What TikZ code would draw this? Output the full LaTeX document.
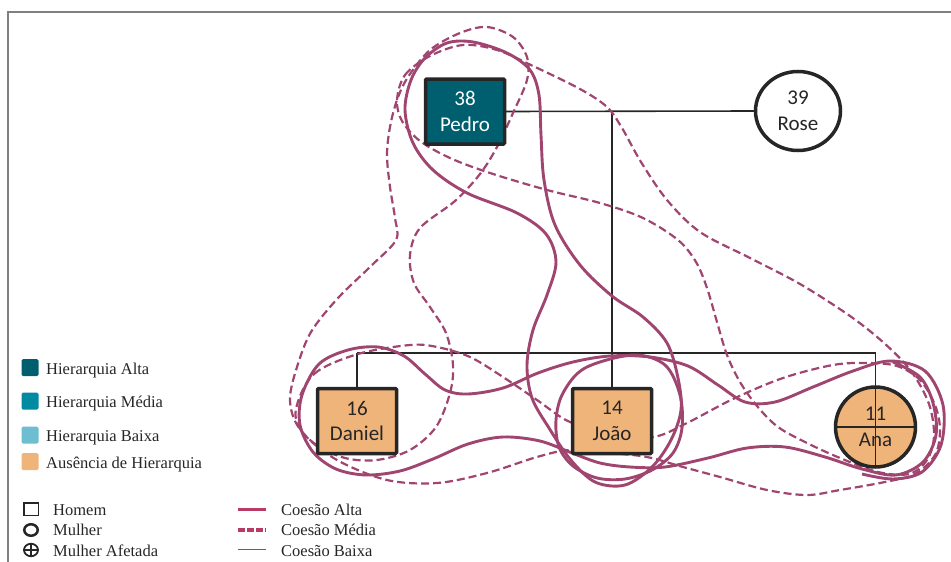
\documentclass[tikz,border=0pt]{standalone}
\usepackage{fontspec}
\setmainfont{Liberation Serif}
\newfontfamily\nodefont{Carlito}
\usetikzlibrary{shapes.geometric}
\pgfdeclarelayer{kinlayer}
\pgfdeclarelayer{bondlayer}
\pgfsetlayers{kinlayer,bondlayer,main}

\definecolor{bond}{RGB}{160,69,112}
\definecolor{legbond}{RGB}{184,58,102}
\definecolor{hialta}{RGB}{0,95,111}
\definecolor{himedia}{RGB}{0,139,163}
\definecolor{hibaixa}{RGB}{108,190,208}
\definecolor{hiausencia}{RGB}{239,180,122}
\definecolor{ink}{RGB}{38,38,38}
\definecolor{framegray}{RGB}{128,128,128}

\tikzset{
  person/.style={draw=ink, line width=3.5pt, align=center, text=ink,
    font=\nodefont\fontsize{21}{25.5}\selectfont, outer sep=0pt, inner sep=0pt},
  male/.style={person, rectangle, rounded corners=1pt, minimum width=79pt, minimum height=65pt},
  female/.style={person, ellipse, minimum width=85pt, minimum height=79pt},
  kin/.style={draw=ink, line width=1.6pt},
  strong/.style={draw=bond, line width=2.9pt, line join=round},
  medium/.style={draw=bond, line width=2.2pt, dash pattern=on 8pt off 4pt},
  legtext/.style={anchor=base west, inner sep=0pt, text=ink,
    font=\fontsize{16.5}{18}\selectfont},
  swatch/.style={rectangle, rounded corners=1.5pt, minimum size=17pt, inner sep=0pt},
}

\begin{document}
\begin{tikzpicture}[x=1pt,y=-1pt]
\useasboundingbox (0,0) rectangle (951,562);

% frame
\draw[framegray, line width=1.3pt] (8,562) -- (8,12) -- (951,12);

% family members
\node[male, fill=hialta, text=white] (pedro) at (465,111.5) {38\\Pedro};
\node[female, fill=white] (rose) at (798,111) {39\\Rose};
\node[male, fill=hiausencia] (daniel) at (357,421) {16\\Daniel};
\node[male, fill=hiausencia] (joao) at (612,421) {14\\João};
\node[person, circle, minimum size=80pt, fill=hiausencia] (ana) at (875.5,427) {11\\Ana};
\draw[kin] (ana.north) -- (ana.south);
\draw[kin] (ana.west) -- (ana.east);

% kinship lines
\begin{pgfonlayer}{kinlayer}
  \coordinate (wed) at (612,111);
  \coordinate (sib) at (612,353);
  \coordinate (sibL) at (daniel.north |- sib);
  \coordinate (sibR) at (ana.north |- sib);
  \draw[kin] (pedro.east) -- (rose.west);
  \draw[kin] (wed) -- (sib);
  \draw[kin] (sibL) -- (sibR);
  \draw[kin] (sibL) -- (daniel.north);
  \draw[kin] (sib) -- (joao.north);
  \draw[kin] (sibR) -- (ana.north);
\end{pgfonlayer}

% cohesion bonds
\begin{pgfonlayer}{bondlayer}
  % Pedro - Joao (strong)
  \draw[strong] plot[smooth cycle, tension=0.55] coordinates {
    (447,43) (473,42) (507,53) (530,70) (539,95) (541,135) (544,180) (555,225)
    (580,265) (612,296) (643,317) (667,343) (678,378) (681,410) (671,440)
    (652,467) (625,485) (595,482) (570,459) (549,428) (532,398) (527,365)
    (533,330) (547,295) (556,262) (546,234) (517,213) (467,193) (433,170)
    (413,143) (405,110) (411,80) (425,58)};
  % Joao (strong)
  \draw[strong] plot[smooth cycle, tension=0.55] coordinates {
    (633,355) (665,365) (680,395) (682,428) (673,453) (652,470) (625,479)
    (597,478) (573,466) (559,447) (556,420) (563,393) (585,368)};
  % Daniel - Joao - Ana (strong)
  \draw[strong] plot[smooth, tension=0.55] coordinates {
    (893,362) (920,377) (933,403) (936,435) (923,462) (896,475) (862,469)
    (825,457) (785,447) (747,448) (708,458) (665,467) (630,467) (600,463)
    (572,453) (540,441) (503,437) (468,444) (433,459) (400,471) (366,475)
    (336,469) (313,452) (300,425) (302,395) (319,364) (348,350) (378,347)
    (404,356) (425,374) (445,390) (468,394) (503,388) (538,373) (573,362)
    (610,356) (650,357) (688,366) (718,385) (745,402) (775,402) (813,387)
    (853,371) (890,361) (925,371) (943,405) (941,445) (922,472) (893,479)
    (862,474)};
  % Pedro - Daniel (medium)
  \draw[medium] plot[smooth cycle, tension=0.55] coordinates {
    (487,27) (460,33) (430,50) (408,77) (397,100) (390,127) (387,155) (390,187)
    (395,218) (396,240) (371,266) (338,298) (311,332) (297,367) (290,398)
    (296,423) (315,444) (345,458) (377,460) (410,450) (436,427) (450,393)
    (453,365) (446,333) (430,307) (414,283) (410,255) (420,228) (455,201)
    (480,174) (497,147) (513,113) (527,80) (527,57) (513,37)};
  % Pedro - Ana (medium)
  \draw[medium] plot[smooth cycle, tension=0.55] coordinates {
    (397,100) (405,75) (430,56) (463,45) (497,50) (533,66) (580,89) (607,107)
    (622,128) (641,162) (667,200) (700,232) (750,258) (800,284) (850,316)
    (884,343) (911,371) (929,404) (934,436) (927,460) (909,474) (878,472)
    (840,458) (807,443) (778,427) (757,406) (740,382) (727,355) (717,322)
    (707,288) (696,262) (678,240) (643,218) (600,203) (547,190) (490,173)
    (450,158) (420,141) (402,121)};
  % Daniel - Joao - Ana (medium)
  \draw[medium] plot[smooth cycle, tension=0.55] coordinates {
    (296,409) (314,374) (358,354) (410,345) (437,347) (470,357) (503,377)
    (537,400) (570,422) (612,432) (653,437) (687,423) (733,399) (783,378)
    (833,365) (867,363) (897,366) (920,380) (935,405) (940,430) (935,455)
    (915,474) (885,482) (840,490) (807,495) (767,490) (720,477) (683,467)
    (647,457) (610,453) (570,450) (537,457) (487,473) (437,483) (387,480)
    (337,460) (303,433)};
\end{pgfonlayer}

% legend: hierarchy
\node[swatch, fill=hialta] (swA) at (30,367.5) {};
\node[legtext] at (46,374) {Hierarquia Alta};
\node[swatch, fill=himedia] (swM) at (30,401) {};
\node[legtext] at (46,407.5) {Hierarquia Média};
\node[swatch, fill=hibaixa] (swB) at (30,435) {};
\node[legtext] at (46,441.5) {Hierarquia Baixa};
\node[swatch, fill=hiausencia] (swN) at (30,461.5) {};
\node[legtext] at (46,468.5) {Ausência de Hierarquia};

% legend: symbols
\node[draw=ink, line width=1.5pt, rectangle, minimum width=14.5pt, minimum height=12.5pt, inner sep=0pt] (symM) at (31,509) {};
\node[legtext] at (53,515.5) {Homem};
\node[draw=ink, line width=2.5pt, ellipse, minimum width=13.5pt, minimum height=11.5pt, inner sep=0pt] (symF) at (31,530) {};
\node[legtext] at (53,535.5) {Mulher};
\node[draw=ink, line width=1.8pt, ellipse, minimum width=14pt, minimum height=12.5pt, inner sep=0pt, outer sep=0pt] (symA) at (31,550) {};
\draw[ink, line width=1.4pt] (symA.north) -- (symA.south);
\draw[ink, line width=1.4pt] (symA.west) -- (symA.east);
\node[legtext] at (53,556.5) {Mulher Afetada};

% legend: cohesion
\coordinate (ca1) at (238,509.3);  \coordinate (ca2) at (266,509.3);
\coordinate (cm1) at (238,529.8);  \coordinate (cm2) at (266,529.8);
\coordinate (cb1) at (238,549.5);  \coordinate (cb2) at (266,549.5);
\draw[legbond, line width=3.4pt] (ca1) -- (ca2);
\draw[legbond, line width=3.4pt, dash pattern=on 6.5pt off 2.6pt] (cm1) -- (cm2);
\draw[legbond, line width=1.9pt] (cb1) -- (cb2);
\node[legtext] at (281,515.5) {Coesão Alta};
\node[legtext] at (281,535.5) {Coesão Média};
\node[legtext] at (281,556) {Coesão Baixa};
\end{tikzpicture}
\end{document}
